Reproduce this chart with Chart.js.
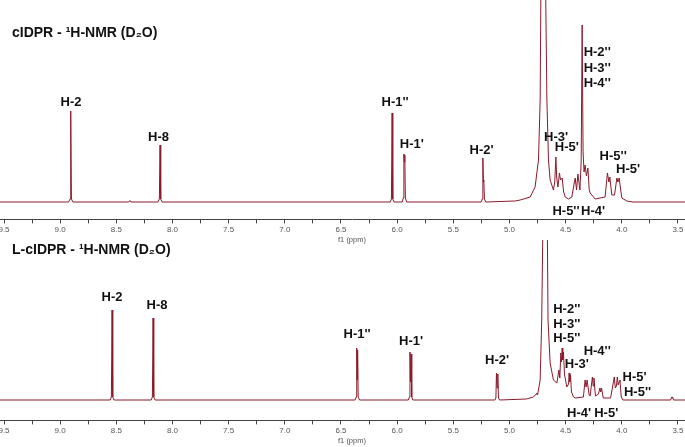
<!DOCTYPE html>
<html>
<head>
<meta charset="utf-8">
<script src="https://cdn.jsdelivr.net/npm/chart.js@4.4.0/dist/chart.umd.min.js"></script>
<style>
  html, body { margin: 0; padding: 0; background: #fff; }
  #wrap { position: relative; width: 685px; height: 447px; overflow: hidden; }
  canvas { position: absolute; left: -40px; }
  #topChart { top: 0; }
  #bottomChart { top: 240px; }
</style>
</head>
<body>
<div id="wrap">
  <canvas id="topChart" width="784" height="246"></canvas>
  <canvas id="bottomChart" width="784" height="207"></canvas>
</div>
<script>
// chemical shift axis (ppm), marks every 0.25, labels every 0.5
const majorTicks = [9.5, 9.0, 8.5, 8.0, 7.5, 7.0, 6.5, 6.0, 5.5, 5.0, 4.5, 4.0, 3.5];
const majorLabels = ['9.5', '9.0', '8.5', '8.0', '7.5', '7.0', '6.5', '6.0', '5.5', '5.0', '4.5', '4.0', '3.5'];
const minorTicks = [9.25, 8.75, 8.25, 7.75, 7.25, 6.75, 6.25, 5.75, 5.25, 4.75, 4.25, 3.75];

// cIDPR trace: shift (ppm) / intensity (arbitrary units, baseline 0)
const cidprShift = [
  9.90, 8.925, 8.912, 8.906, 8.900, 8.887, 8.39, 8.38, 8.37,
  8.130, 8.117, 8.111, 8.105, 8.092,
  6.062, 6.051, 6.045, 6.039, 6.028,
  5.955, 5.945, 5.940, 5.936, 5.932, 5.927, 5.915,
  5.252, 5.243, 5.237, 5.232, 5.229, 5.223, 5.212,
  4.95, 4.905, 4.816, 4.772, 4.742, 4.727, 4.718, 4.700, 4.682, 4.667, 4.653, 4.638, 4.609,
  4.597, 4.587, 4.580, 4.569, 4.555, 4.546, 4.531, 4.518, 4.504, 4.475,
  4.445, 4.430, 4.415, 4.403, 4.391, 4.373, 4.362, 4.353, 4.345, 4.336, 4.327, 4.315, 4.302, 4.290, 4.282,
  4.237, 4.149, 4.128, 4.115, 4.107, 4.089, 4.065, 4.044, 4.035, 4.024, 4.000, 3.955, 3.90, 2.90
];
const cidprIntensity = [
  0, 0, 3, 91, 3, 0, 0, 1.5, 0,
  0, 3, 57, 3, 0,
  0, 3, 89, 3, 0,
  0, 4, 48, 40, 47, 4, 0,
  0, 3, 44, 20, 22, 3, 0,
  1, 2, 5, 15, 42, 102, 250, 700, 250, 102, 42, 22, 12,
  20, 45, 25, 15, 29, 22, 24, 10, 5, 3,
  5, 15, 24, 12, 28, 12, 40, 177, 50, 30, 37, 26, 34, 12, 9,
  3, 5, 29, 20, 25, 7, 7, 24, 20, 24, 4, 1, 0, 0
];

// L-cIDPR trace
const lcidprShift = [
  9.90, 8.555, 8.544, 8.538, 8.532, 8.520,
  8.190, 8.179, 8.173, 8.167, 8.155,
  6.375, 6.364, 6.360, 6.356, 6.352, 6.347, 6.335,
  5.900, 5.891, 5.886, 5.881, 5.876, 5.870, 5.860,
  5.130, 5.121, 5.116, 5.110, 5.104, 5.098, 5.088,
  4.85, 4.787, 4.762, 4.757, 4.750, 4.727, 4.713, 4.700, 4.683, 4.665, 4.657, 4.638, 4.609,
  4.578, 4.560, 4.552, 4.543, 4.537, 4.531, 4.526, 4.520, 4.510, 4.504, 4.490,
  4.474, 4.469, 4.463, 4.457, 4.448, 4.430, 4.415, 4.342, 4.327, 4.318, 4.309, 4.291, 4.282,
  4.262, 4.255, 4.248, 4.235, 4.208, 4.195, 4.188, 4.181, 4.165, 4.100,
  4.067, 4.058, 4.048, 4.040, 4.032, 4.024, 4.017, 4.005, 3.990,
  3.565, 3.556, 3.552, 3.548, 3.540, 2.90
];
const lcidprIntensity = [
  0, 0, 3, 90, 3, 0,
  0, 3, 82, 3, 0,
  0, 3, 52, 20, 50, 3, 0,
  0, 3, 48, 18, 46, 3, 0,
  0, 2, 27, 12, 26, 2, 0,
  1, 3, 6, 7, 5, 20, 80, 200, 500, 200, 80, 37, 20,
  17, 30, 22, 47, 38, 52, 40, 48, 25, 22, 13,
  16, 27, 18, 25, 8, 3, 2, 3, 20, 13, 20, 5, 4,
  23, 14, 22, 4, 6, 12, 8, 12, 2, 2,
  23, 12, 14, 23, 15, 18, 20, 3, 0,
  0, 3, 2, 3, 0, 0
];

// peak assignments: text, shift, height of the text
const cidprLabelText = ['H-2', 'H-8', "H-1''", "H-1'", "H-2'", "H-2''", "H-3''", "H-4''", "H-3'", "H-5'", "H-5''", "H-5'", "H-5''", "H-4'"];
const cidprLabelShift = [8.903, 8.124, 6.018, 5.870, 5.248, 4.219, 4.219, 4.219, 4.585, 4.490, 4.077, 3.944, 4.497, 4.256];
const cidprLabelLevel = [100, 65, 100, 58, 52, 150, 134, 119, 65, 55, 46, 33, -9, -9];

const lcidprLabelText = ['H-2', 'H-8', "H-1''", "H-1'", "H-2'", "H-2''", "H-3''", "H-5''", "H-4''", "H-3'", "H-5'", "H-5''", "H-4'", "H-5'"];
const lcidprLabelShift = [8.538, 8.138, 6.357, 5.876, 5.110, 4.490, 4.490, 4.490, 4.219, 4.400, 3.886, 3.860, 4.380, 4.139];
const lcidprLabelLevel = [103, 95, 66, 59, 40, 91, 76, 62, 49, 36, 23, 8, -13, -13];

const lineColor = '#8b1a2b';

const labelPlugin = {
  id: 'peakLabels',
  afterDraw(chart, args, opts) {
    const { ctx, scales: { x, y } } = chart;
    ctx.save();
    ctx.fillStyle = '#111';
    ctx.font = 'bold 13px "Liberation Sans", Arial, sans-serif';
    ctx.textBaseline = 'middle';
    ctx.textAlign = 'center';
    opts.text.forEach((t, i) => {
      ctx.fillText(t, x.getPixelForValue(opts.shift[i]), y.getPixelForValue(opts.level[i]));
    });
    ctx.textAlign = 'left';
    ctx.font = 'bold 14px "Liberation Sans", Arial, sans-serif';
    ctx.fillText(opts.title, x.getPixelForValue(9.429), y.getPixelForValue(opts.titleLevel));
    ctx.restore();
  }
};

function makeChart(id, shift, intensity, labels, yMin, yMax) {
  const points = shift.map((s, i) => ({ x: s, y: intensity[i] }));
  return new Chart(document.getElementById(id), {
    type: 'line',
    data: {
      datasets: [{
        data: points,
        borderColor: lineColor,
        borderWidth: 1,
        pointRadius: 0,
        tension: 0,
        fill: false
      }]
    },
    options: {
      responsive: false,
      animation: false,
      layout: { padding: 0 },
      plugins: {
        legend: { display: false },
        tooltip: { enabled: false },
        peakLabels: labels
      },
      scales: {
        x: {
          type: 'linear',
          reverse: true,
          min: 2.9123,
          max: 9.8918,
          afterBuildTicks: (scale) => {
            scale.ticks = majorTicks.concat(minorTicks).sort((a, b) => a - b).map(v => ({ value: v }));
          },
          ticks: {
            autoSkip: false,
            maxRotation: 0,
            padding: 2,
            color: '#555',
            font: { family: '"Liberation Sans", Arial, sans-serif', size: 8 },
            callback: (v) => {
              const i = majorTicks.indexOf(v);
              return i >= 0 ? majorLabels[i] : '';
            }
          },
          grid: { drawOnChartArea: false, drawTicks: true, tickLength: 4, color: '#444' },
          border: { display: true, color: '#444', width: 1 },
          title: {
            display: true,
            text: 'f1 (ppm)',
            color: '#555',
            font: { family: '"Liberation Sans", Arial, sans-serif', size: 7.5 },
            padding: { top: -2, bottom: 2 }
          }
        },
        y: { display: false, min: yMin, max: yMax }
      }
    },
    plugins: [labelPlugin]
  });
}

makeChart('topChart', cidprShift, cidprIntensity, {
  text: cidprLabelText, shift: cidprLabelShift, level: cidprLabelLevel,
  title: 'cIDPR - ¹H-NMR (D₂O)', titleLevel: 169
}, -17.4, 202);

makeChart('bottomChart', lcidprShift, lcidprIntensity, {
  text: lcidprLabelText, shift: lcidprLabelShift, level: lcidprLabelLevel,
  title: 'L-cIDPR - ¹H-NMR (D₂O)', titleLevel: 150
}, -20.4, 160);
</script>
</body>
</html>
